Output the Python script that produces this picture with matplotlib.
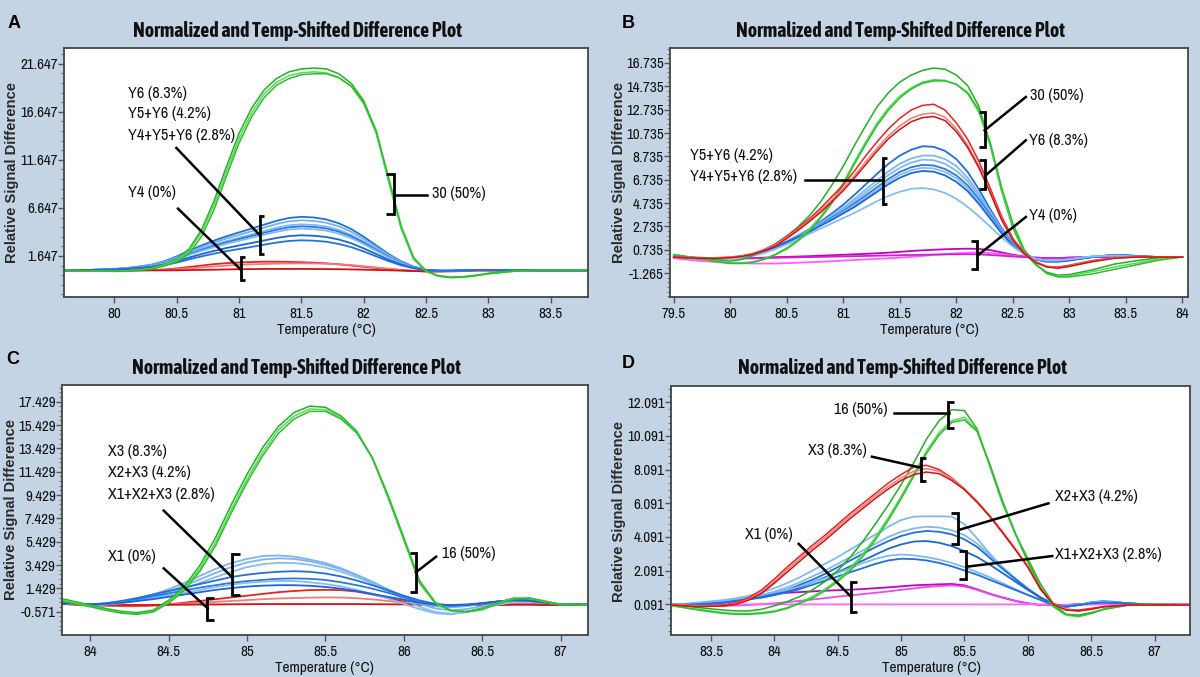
import matplotlib
matplotlib.use("Agg")
import matplotlib.pyplot as plt
from matplotlib import font_manager as fm
from matplotlib.font_manager import FontProperties
import os
from matplotlib.ticker import AutoMinorLocator

# ---------------- panel A ----------------
a_temp = [79.6, 79.8,
          80.0, 80.1, 80.2, 80.3, 80.4, 80.5, 80.6, 80.7, 80.8, 80.9,
          81.0, 81.1, 81.2, 81.3, 81.4, 81.5, 81.6, 81.7, 81.8, 81.9,
          82.0, 82.1, 82.2, 82.3, 82.4, 82.5, 82.6, 82.7, 82.8, 82.9,
          83.0, 83.2, 83.4, 83.6, 83.8]
a_green = [
    [0.15, 0.1,
     0.05, 0.1, 0.2, 0.4, 0.75, 1.3, 2.4, 4.4, 7.4, 11.0,
     14.4, 17.0, 18.9, 20.1, 20.8, 21.1, 21.2, 21.1, 20.6, 19.6,
     17.8, 14.6, 9.5, 4.6, 1.4, 0.1, -0.4, -0.55, -0.5, -0.35,
     -0.15, 0.1, 0.15, 0.15, 0.15],
    [0.15, 0.1,
     0.05, 0.1, 0.2, 0.35, 0.7, 1.2, 2.2, 4.1, 7.0, 10.5,
     13.9, 16.5, 18.5, 19.7, 20.4, 20.7, 20.8, 20.7, 20.2, 19.3,
     17.5, 14.4, 9.4, 4.5, 1.3, 0.05, -0.45, -0.6, -0.55, -0.4,
     -0.2, 0.05, 0.15, 0.15, 0.15],
    [0.15, 0.1,
     0.05, 0.05, 0.15, 0.3, 0.6, 1.05, 1.9, 3.7, 6.5, 10.0,
     13.4, 16.1, 18.1, 19.4, 20.1, 20.5, 20.6, 20.6, 20.2, 19.3,
     17.6, 14.7, 9.8, 4.8, 1.5, 0.1, -0.45, -0.6, -0.55, -0.4,
     -0.2, 0.05, 0.15, 0.15, 0.15],
]
a_blue = [
    [0.15, 0.2,
     0.3, 0.4, 0.55, 0.75, 1.1, 1.6, 2.2, 2.75, 3.25, 3.7,
     4.1, 4.5, 4.9, 5.3, 5.6, 5.72, 5.65, 5.45, 5.05, 4.45,
     3.65, 2.75, 1.85, 1.1, 0.55, 0.2, 0.1, 0.1, 0.15, 0.2,
     0.2, 0.15, 0.15, 0.15, 0.15],
    [0.15, 0.2,
     0.29, 0.38, 0.52, 0.71, 1.04, 1.5, 2.07, 2.58, 3.05, 3.47,
     3.84, 4.22, 4.59, 4.97, 5.25, 5.36, 5.29, 5.1, 4.73, 4.17,
     3.42, 2.58, 1.74, 1.04, 0.52, 0.2, 0.1, 0.1, 0.15, 0.2,
     0.2, 0.15, 0.15, 0.15, 0.15],
    [0.15, 0.19,
     0.28, 0.37, 0.49, 0.67, 0.97, 1.4, 1.91, 2.39, 2.82, 3.2,
     3.55, 3.89, 4.24, 4.58, 4.84, 4.94, 4.88, 4.71, 4.36, 3.85,
     3.16, 2.39, 1.61, 0.97, 0.49, 0.19, 0.11, 0.11, 0.15, 0.19,
     0.19, 0.15, 0.15, 0.15, 0.15],
    [0.15, 0.19,
     0.27, 0.36, 0.48, 0.64, 0.93, 1.34, 1.84, 2.29, 2.7, 3.07,
     3.4, 3.73, 4.05, 4.38, 4.63, 4.73, 4.67, 4.51, 4.18, 3.68,
     3.03, 2.29, 1.55, 0.93, 0.48, 0.19, 0.11, 0.11, 0.15, 0.19,
     0.19, 0.15, 0.15, 0.15, 0.15],
    [0.15, 0.19,
     0.27, 0.34, 0.46, 0.62, 0.89, 1.28, 1.75, 2.18, 2.56, 2.92,
     3.23, 3.54, 3.85, 4.16, 4.4, 4.49, 4.43, 4.28, 3.97, 3.5,
     2.88, 2.18, 1.47, 0.89, 0.46, 0.19, 0.11, 0.11, 0.15, 0.19,
     0.19, 0.15, 0.15, 0.15, 0.15],
    [0.15, 0.18,
     0.25, 0.31, 0.41, 0.54, 0.77, 1.1, 1.49, 1.85, 2.18, 2.48,
     2.74, 3.0, 3.26, 3.52, 3.72, 3.8, 3.75, 3.62, 3.36, 2.97,
     2.44, 1.85, 1.26, 0.77, 0.41, 0.18, 0.12, 0.12, 0.15, 0.18,
     0.18, 0.15, 0.15, 0.15, 0.15],
    [0.15, 0.18,
     0.23, 0.29, 0.37, 0.49, 0.68, 0.96, 1.3, 1.61, 1.89, 2.15,
     2.37, 2.59, 2.82, 3.04, 3.21, 3.28, 3.24, 3.13, 2.9, 2.57,
     2.12, 1.61, 1.11, 0.68, 0.37, 0.18, 0.12, 0.12, 0.15, 0.18,
     0.18, 0.15, 0.15, 0.15, 0.15],
]
a_red = [
    [0.15, 0.15,
     0.15, 0.15, 0.16, 0.18, 0.25, 0.35, 0.5, 0.65, 0.8, 0.9,
     0.97, 1.02, 1.05, 1.05, 1.03, 1.0, 0.95, 0.88, 0.78, 0.65,
     0.52, 0.4, 0.28, 0.18, 0.1, 0.05, 0.05, 0.08, 0.12, 0.15,
     0.15, 0.15, 0.15, 0.15, 0.15],
    [0.15, 0.15,
     0.15, 0.15, 0.15, 0.17, 0.2, 0.27, 0.36, 0.46, 0.56, 0.65,
     0.72, 0.78, 0.82, 0.85, 0.87, 0.88, 0.87, 0.84, 0.78, 0.7,
     0.58, 0.45, 0.32, 0.2, 0.1, 0.02, 0.0, 0.02, 0.08, 0.12,
     0.15, 0.15, 0.15, 0.15, 0.15],
    [0.15, 0.15,
     0.15, 0.15, 0.15, 0.15, 0.15, 0.16, 0.18, 0.2, 0.22, 0.25,
     0.27, 0.28, 0.3, 0.3, 0.3, 0.3, 0.29, 0.28, 0.27, 0.25,
     0.22, 0.19, 0.16, 0.12, 0.08, 0.06, 0.06, 0.08, 0.12, 0.15,
     0.15, 0.15, 0.15, 0.15, 0.15],
]
a_yticks = [1.647, 6.647, 11.647, 16.647, 21.647]
a_xticks = [80, 80.5, 81, 81.5, 82, 82.5, 83, 83.5]

# ---------------- panel B ----------------
b_temp = [79.5, 79.7, 79.9,
          80.0, 80.1, 80.2, 80.3, 80.4, 80.5, 80.6, 80.7, 80.8, 80.9,
          81.0, 81.1, 81.2, 81.3, 81.4, 81.5, 81.6, 81.7, 81.8, 81.9,
          82.0, 82.1, 82.2, 82.3, 82.4, 82.5, 82.6, 82.7, 82.8, 82.9,
          83.0, 83.2, 83.4, 83.6, 83.8, 84.0]
b_green = [
    [0.3, 0.05, -0.15,
     -0.25, -0.1, 0.25, 0.7, 1.25, 1.9, 2.7, 3.65, 4.85, 6.3,
     7.9, 9.7, 11.4, 13.0, 14.2, 15.1, 15.7, 16.1, 16.3, 16.2,
     15.7, 14.8, 13.0, 9.8, 5.8, 2.6, 0.5, -0.55, -1.2, -1.45,
     -1.4, -1.0, -0.5, -0.2, 0.05, 0.1],
    [0.3, 0.0, -0.3,
     -0.4, -0.4, -0.3, -0.05, 0.35, 0.9, 1.6, 2.5, 3.6, 4.9,
     6.5, 8.3, 10.0, 11.6, 12.9, 13.9, 14.6, 15.1, 15.3, 15.25,
     14.9, 14.1, 12.5, 9.6, 5.8, 2.8, 0.6, -0.5, -1.3, -1.55,
     -1.5, -1.15, -0.75, -0.4, -0.05, 0.1],
    [0.3, 0.0, -0.3,
     -0.45, -0.45, -0.35, -0.1, 0.3, 0.8, 1.5, 2.35, 3.45, 4.75,
     6.3, 8.1, 9.8, 11.4, 12.7, 13.75, 14.5, 15.0, 15.2, 15.2,
     14.9, 14.2, 12.7, 9.9, 6.1, 3.0, 0.75, -0.45, -1.3, -1.6,
     -1.6, -1.35, -0.95, -0.55, -0.15, 0.1],
]
b_red = [
    [0.1, 0.0, 0.05,
     0.1, 0.2, 0.4, 0.75, 1.2, 1.9, 2.6, 3.4, 4.3, 5.3,
     6.3, 7.5, 8.8, 10.0, 11.1, 12.0, 12.7, 13.1, 13.2, 12.7,
     11.6, 10.2, 8.3, 6.0, 3.6, 1.7, 0.5, -0.3, -0.7, -0.75,
     -0.6, -0.2, 0.05, 0.1, 0.1, 0.1],
    [0.1, 0.0, 0.05,
     0.1, 0.2, 0.4, 0.7, 1.15, 1.8, 2.5, 3.25, 4.1, 5.0,
     6.0, 7.1, 8.3, 9.45, 10.5, 11.35, 12.0, 12.35, 12.45, 12.1,
     11.1, 9.7, 7.9, 5.7, 3.4, 1.6, 0.45, -0.3, -0.7, -0.8,
     -0.65, -0.25, 0.05, 0.1, 0.1, 0.1],
    [0.1, 0.0, 0.0,
     0.05, 0.15, 0.35, 0.65, 1.05, 1.7, 2.4, 3.15, 3.95, 4.85,
     5.8, 6.9, 8.05, 9.2, 10.25, 11.05, 11.7, 12.05, 12.15, 11.8,
     10.85, 9.5, 7.75, 5.6, 3.3, 1.55, 0.4, -0.35, -0.75, -0.85,
     -0.7, -0.3, 0.0, 0.1, 0.1, 0.1],
]
b_blue = [
    [0.2, 0.0, 0.0, 0.05, 0.15, 0.35, 0.65, 1.0, 1.45, 1.95,
     2.5, 3.15, 3.85, 4.6, 5.45, 6.35, 7.25, 8.1, 8.8, 9.3,
     9.6, 9.55, 9.2, 8.5, 7.4, 5.9, 4.2, 2.6, 1.35, 0.45,
     -0.1, -0.3, -0.3, -0.2, 0.1, 0.2, 0.15, 0.1, 0.1],
    [0.2, 0.0, -0.05, 0.0, 0.1, 0.3, 0.6, 0.95, 1.4, 1.9,
     2.45, 3.05, 3.7, 4.35, 5.1, 5.9, 6.7, 7.45, 8.1, 8.55,
     8.8, 8.8, 8.5, 7.9, 6.9, 5.55, 4.0, 2.5, 1.3, 0.45,
     -0.05, -0.2, -0.2, -0.1, 0.15, 0.25, 0.15, 0.1, 0.1],
    [0.15, 0.0, -0.05, 0.0, 0.1, 0.3, 0.55, 0.9, 1.35, 1.85,
     2.4, 3.0, 3.6, 4.2, 4.9, 5.65, 6.4, 7.15, 7.75, 8.2,
     8.45, 8.4, 8.1, 7.5, 6.6, 5.3, 3.85, 2.4, 1.25, 0.4,
     -0.05, -0.2, -0.2, -0.1, 0.15, 0.25, 0.15, 0.1, 0.1],
    [0.2, 0.0, 0.0, 0.05, 0.15, 0.3, 0.6, 0.95, 1.4, 1.85,
     2.35, 2.9, 3.5, 4.05, 4.7, 5.4, 6.1, 6.8, 7.4, 7.8,
     8.0, 7.95, 7.65, 7.1, 6.25, 5.05, 3.7, 2.35, 1.2, 0.4,
     -0.1, -0.25, -0.25, -0.15, 0.1, 0.3, 0.2, 0.1, 0.1],
    [0.15, -0.05, -0.1, -0.05, 0.05, 0.25, 0.5, 0.85, 1.3, 1.8,
     2.3, 2.85, 3.4, 3.95, 4.55, 5.2, 5.9, 6.55, 7.15, 7.55,
     7.75, 7.7, 7.4, 6.85, 6.0, 4.85, 3.55, 2.25, 1.15, 0.35,
     -0.05, -0.2, -0.2, -0.1, 0.15, 0.25, 0.15, 0.1, 0.1],
    [0.2, 0.0, 0.0, 0.05, 0.15, 0.3, 0.55, 0.9, 1.35, 1.8,
     2.25, 2.8, 3.3, 3.85, 4.4, 5.05, 5.7, 6.35, 6.9, 7.3,
     7.48, 7.42, 7.1, 6.55, 5.75, 4.65, 3.4, 2.15, 1.1, 0.35,
     -0.1, -0.25, -0.25, -0.15, 0.1, 0.3, 0.2, 0.1, 0.1],
    [0.15, -0.05, -0.1, -0.05, 0.05, 0.2, 0.45, 0.8, 1.2, 1.65,
     2.1, 2.55, 3.0, 3.45, 3.9, 4.4, 4.9, 5.35, 5.7, 5.95,
     6.02, 5.9, 5.6, 5.1, 4.4, 3.6, 2.7, 1.8, 1.0, 0.35,
     -0.05, -0.2, -0.2, -0.1, 0.15, 0.25, 0.15, 0.1, 0.1],
]
b_magenta = [
    [0.1, 0.05, 0.0,
     0.0, 0.0, 0.0, 0.05, 0.1, 0.12, 0.15, 0.18, 0.22, 0.26,
     0.3, 0.34, 0.38, 0.43, 0.48, 0.55, 0.62, 0.68, 0.73, 0.77,
     0.8, 0.82, 0.8, 0.7, 0.5, 0.3, 0.15, 0.05, 0.0, 0.0,
     0.05, 0.1, 0.15, 0.1, 0.1, 0.1],
    [0.0, -0.2, -0.35,
     -0.4, -0.42, -0.45, -0.45, -0.45, -0.42, -0.38, -0.34, -0.3, -0.25,
     -0.2, -0.15, -0.1, -0.05, 0.0, 0.05, 0.12, 0.2, 0.28, 0.35,
     0.42, 0.47, 0.5, 0.45, 0.35, 0.22, 0.12, 0.05, 0.0, 0.0,
     0.05, 0.1, 0.1, 0.1, 0.1, 0.1],
    [0.1, 0.05, 0.0,
     0.0, 0.0, 0.0, 0.02, 0.04, 0.06, 0.08, 0.1, 0.12, 0.14,
     0.16, 0.18, 0.2, 0.22, 0.24, 0.26, 0.28, 0.3, 0.32, 0.33,
     0.34, 0.35, 0.33, 0.28, 0.22, 0.15, 0.1, 0.05, 0.02, 0.02,
     0.05, 0.1, 0.1, 0.1, 0.1, 0.1],
]
b_yticks = [-1.265, 0.735, 2.735, 4.735, 6.735, 8.735, 10.735, 12.735, 14.735, 16.735]
b_xticks = [79.5, 80, 80.5, 81, 81.5, 82, 82.5, 83, 83.5, 84]

# ---------------- panel C ----------------
c_temp = [83.8, 83.9, 84.0, 84.1, 84.2, 84.3, 84.4, 84.5, 84.6, 84.7,
          84.8, 84.9, 85.0, 85.1, 85.2, 85.3, 85.4, 85.5, 85.6, 85.7,
          85.8, 85.9, 86.0, 86.1, 86.2, 86.3, 86.4, 86.5, 86.6, 86.7,
          86.8, 86.9, 87.0, 87.1, 87.2]
c_green = [
    [0.6, 0.3, 0.0, -0.3, -0.55, -0.65, -0.45, 0.4, 1.6, 3.4,
     5.8, 8.6, 11.2, 13.5, 15.3, 16.5, 17.05, 16.95, 16.2, 14.9,
     12.6, 9.2, 5.6, 1.9, 0.15, -0.5, -0.55, -0.3, 0.2, 0.6,
     0.55, 0.25, 0.0, 0.05, 0.0],
    [0.5, 0.2, -0.1, -0.4, -0.65, -0.75, -0.55, 0.25, 1.4, 3.1,
     5.4, 8.2, 10.8, 13.1, 15.0, 16.2, 16.8, 16.75, 16.05, 14.8,
     12.6, 9.3, 5.7, 2.0, 0.2, -0.5, -0.6, -0.35, 0.15, 0.55,
     0.6, 0.3, 0.05, 0.05, 0.0],
    [0.4, 0.1, -0.15, -0.45, -0.7, -0.8, -0.6, 0.15, 1.25, 2.9,
     5.1, 7.9, 10.5, 12.8, 14.7, 15.95, 16.6, 16.6, 15.95, 14.75,
     12.6, 9.4, 5.8, 2.1, 0.25, -0.45, -0.6, -0.4, 0.1, 0.5,
     0.6, 0.35, 0.05, 0.05, 0.0],
]
c_blue = [
    [0.2, 0.1, 0.05, 0.15, 0.3, 0.55, 0.9, 1.35, 1.9, 2.5,
     3.1, 3.6, 3.95, 4.2, 4.25, 4.15, 3.9, 3.6, 3.15, 2.6,
     2.0, 1.35, 0.75, 0.25, -0.1, -0.2, -0.1, 0.1, 0.3, 0.45,
     0.4, 0.2, 0.05, 0.1, 0.0],
    [0.2, 0.1, 0.05, 0.1, 0.25, 0.45, 0.75, 1.15, 1.65, 2.2,
     2.75, 3.25, 3.65, 3.9, 4.0, 3.95, 3.75, 3.45, 3.05, 2.55,
     1.95, 1.3, 0.65, 0.1, -0.3, -0.45, -0.35, -0.1, 0.15, 0.35,
     0.35, 0.2, 0.05, 0.1, 0.0],
    [0.2, 0.1, 0.0, 0.05, 0.15, 0.35, 0.6, 0.95, 1.4, 1.9,
     2.4, 2.85, 3.25, 3.5, 3.62, 3.6, 3.45, 3.2, 2.85, 2.4,
     1.85, 1.2, 0.5, -0.15, -0.6, -0.75, -0.6, -0.25, 0.05, 0.25,
     0.3, 0.2, 0.05, 0.1, 0.0],
    [0.2, 0.1, 0.05, 0.15, 0.35, 0.6, 0.9, 1.2, 1.5, 1.8,
     2.1, 2.4, 2.6, 2.75, 2.85, 2.9, 2.85, 2.7, 2.45, 2.1,
     1.7, 1.25, 0.8, 0.4, 0.1, -0.05, 0.0, 0.15, 0.3, 0.45,
     0.4, 0.25, 0.05, 0.1, 0.0],
    [0.2, 0.1, 0.05, 0.12, 0.3, 0.5, 0.75, 1.0, 1.25, 1.5,
     1.7, 1.9, 2.05, 2.15, 2.25, 2.28, 2.25, 2.15, 1.95, 1.7,
     1.4, 1.05, 0.65, 0.3, 0.05, -0.05, 0.0, 0.15, 0.3, 0.4,
     0.35, 0.2, 0.05, 0.1, 0.0],
    [0.2, 0.1, 0.0, 0.05, 0.2, 0.35, 0.55, 0.8, 1.05, 1.3,
     1.55, 1.75, 1.9, 2.0, 2.07, 2.05, 1.95, 1.8, 1.6, 1.3,
     0.95, 0.55, 0.1, -0.35, -0.7, -0.8, -0.6, -0.25, 0.05, 0.25,
     0.3, 0.2, 0.05, 0.1, 0.0],
    [0.2, 0.1, 0.05, 0.1, 0.2, 0.35, 0.5, 0.7, 0.9, 1.1,
     1.3, 1.45, 1.58, 1.66, 1.7, 1.7, 1.65, 1.55, 1.4, 1.2,
     0.95, 0.7, 0.45, 0.2, 0.05, 0.0, 0.05, 0.15, 0.3, 0.4,
     0.35, 0.2, 0.05, 0.1, 0.0],
]
c_red = [
    [0.1, 0.05, 0.0, -0.05, -0.1, -0.1, -0.05, 0.05, 0.2, 0.35,
     0.5, 0.65, 0.8, 0.95, 1.1, 1.2, 1.28, 1.3, 1.28, 1.15,
     0.9, 0.6, 0.3, 0.05, -0.1, -0.1, 0.0, 0.05, 0.1, 0.15,
     0.1, 0.05, 0.0, 0.05, 0.0],
    [0.1, 0.05, 0.0, -0.05, -0.05, -0.05, 0.0, 0.05, 0.12, 0.2,
     0.27, 0.35, 0.42, 0.5, 0.56, 0.6, 0.63, 0.65, 0.64, 0.58,
     0.48, 0.35, 0.2, 0.08, 0.0, -0.02, 0.0, 0.02, 0.05, 0.1,
     0.08, 0.05, 0.0, 0.05, 0.0],
    [0.1, 0.05, 0.0, 0.0, 0.0, 0.0, 0.0, 0.02, 0.03, 0.04,
     0.05, 0.06, 0.07, 0.08, 0.08, 0.08, 0.08, 0.08, 0.08, 0.08,
     0.07, 0.06, 0.05, 0.03, 0.02, 0.0, 0.0, 0.0, 0.0, 0.02,
     0.02, 0.0, 0.0, 0.02, 0.0],
]
c_yticks = [-0.571, 1.429, 3.429, 5.429, 7.429, 9.429, 11.429, 13.429, 15.429, 17.429]
c_xticks = [84, 84.5, 85, 85.5, 86, 86.5, 87]

# ---------------- panel D ----------------
d_temp = [83.2, 83.4, 83.6,
          83.7, 83.8, 83.9, 84.0, 84.1, 84.2, 84.3, 84.4, 84.5, 84.6,
          84.7, 84.8, 84.9, 85.0, 85.1, 85.2, 85.3, 85.4, 85.5, 85.6,
          85.7, 85.8, 85.9, 86.0, 86.1, 86.2, 86.3, 86.4, 86.5, 86.6,
          86.8, 87.0, 87.3]
d_green = [
    [0.05, -0.1, -0.25,
     -0.3, -0.3, -0.2, 0.0, 0.25, 0.55, 0.95, 1.45, 2.1, 2.9,
     3.85, 4.9, 6.0, 7.2, 8.5, 9.9, 11.0, 11.65, 11.6, 10.5,
     8.3, 6.1, 4.3, 2.8, 1.3, 0.15, -0.5, -0.55, -0.4, -0.2,
     0.1, 0.1, 0.05],
    [0.0, -0.2, -0.4,
     -0.45, -0.45, -0.4, -0.3, -0.1, 0.2, 0.55, 1.0, 1.55, 2.25,
     3.1, 4.1, 5.25, 6.5, 7.85, 9.2, 10.3, 11.0, 11.2, 10.4,
     8.4, 6.2, 4.3, 2.6, 1.05, -0.05, -0.55, -0.65, -0.45, -0.2,
     0.05, 0.1, 0.05],
    [0.0, -0.25, -0.45,
     -0.5, -0.5, -0.45, -0.35, -0.15, 0.15, 0.45, 0.9, 1.45, 2.1,
     2.95, 3.95, 5.1, 6.35, 7.7, 9.05, 10.15, 10.9, 11.05, 10.35,
     8.4, 6.25, 4.35, 2.65, 1.1, 0.0, -0.5, -0.6, -0.45, -0.2,
     0.05, 0.1, 0.05],
]
d_red = [
    [0.1, 0.0, 0.05,
     0.2, 0.5, 0.95, 1.6, 2.3, 2.95, 3.6, 4.2, 4.85, 5.5,
     6.1, 6.7, 7.3, 7.8, 8.25, 8.35, 8.1, 7.6, 6.95, 6.2,
     5.35, 4.4, 3.4, 2.35, 1.0, 0.15, -0.2, -0.25, -0.15, -0.05,
     0.05, 0.05, 0.05],
    [0.1, 0.0, 0.0,
     0.15, 0.4, 0.85, 1.45, 2.15, 2.8, 3.45, 4.05, 4.7, 5.35,
     5.95, 6.55, 7.1, 7.6, 8.0, 8.15, 8.0, 7.55, 6.95, 6.2,
     5.35, 4.4, 3.4, 2.35, 1.0, 0.15, -0.2, -0.3, -0.2, -0.05,
     0.05, 0.05, 0.05],
    [0.05, -0.05, 0.0,
     0.1, 0.35, 0.75, 1.35, 2.0, 2.65, 3.3, 3.9, 4.55, 5.2,
     5.8, 6.4, 6.95, 7.45, 7.8, 7.95, 7.85, 7.45, 6.9, 6.15,
     5.3, 4.35, 3.35, 2.3, 1.0, 0.1, -0.25, -0.3, -0.2, -0.05,
     0.05, 0.05, 0.05],
]
d_blue = [
    [0.05, 0.2, 0.35,
     0.45, 0.6, 0.8, 1.05, 1.35, 1.7, 2.1, 2.5, 2.9, 3.35,
     3.8, 4.25, 4.7, 5.1, 5.3, 5.32, 5.32, 5.3, 4.85, 4.0,
     3.1, 2.3, 1.6, 1.0, 0.45, 0.05, -0.05, 0.05, 0.2, 0.3,
     0.15, 0.05, 0.05],
    [0.05, 0.1, 0.25,
     0.35, 0.5, 0.65, 0.85, 1.1, 1.4, 1.75, 2.1, 2.5, 2.9,
     3.3, 3.7, 4.1, 4.4, 4.6, 4.7, 4.65, 4.5, 4.2, 3.7,
     3.0, 2.3, 1.65, 1.05, 0.5, 0.1, -0.05, 0.05, 0.2, 0.3,
     0.15, 0.05, 0.05],
    [0.05, 0.1, 0.2,
     0.3, 0.4, 0.55, 0.75, 0.95, 1.25, 1.55, 1.9, 2.3, 2.7,
     3.1, 3.5, 3.85, 4.15, 4.35, 4.45, 4.4, 4.25, 3.95, 3.5,
     2.85, 2.2, 1.6, 1.0, 0.5, 0.1, -0.05, 0.05, 0.2, 0.25,
     0.15, 0.05, 0.05],
    [0.05, 0.1, 0.2,
     0.3, 0.4, 0.5, 0.65, 0.85, 1.1, 1.4, 1.7, 2.0, 2.35,
     2.7, 3.05, 3.4, 3.65, 3.82, 3.85, 3.75, 3.55, 3.25, 2.9,
     2.45, 1.95, 1.45, 0.95, 0.5, 0.1, -0.05, 0.05, 0.2, 0.25,
     0.15, 0.05, 0.05],
    [0.05, 0.15, 0.3,
     0.4, 0.5, 0.65, 0.8, 0.95, 1.15, 1.4, 1.65, 1.95, 2.25,
     2.55, 2.8, 2.98, 3.05, 3.0, 2.9, 2.75, 2.55, 2.3, 2.0,
     1.7, 1.35, 1.0, 0.65, 0.35, 0.05, -0.05, 0.05, 0.2, 0.25,
     0.15, 0.05, 0.05],
    [0.05, 0.1, 0.2,
     0.3, 0.4, 0.5, 0.65, 0.8, 1.0, 1.25, 1.5, 1.75, 2.0,
     2.25, 2.5, 2.7, 2.8, 2.78, 2.7, 2.55, 2.35, 2.1, 1.85,
     1.55, 1.25, 0.95, 0.65, 0.35, 0.05, -0.05, 0.05, 0.15, 0.2,
     0.15, 0.05, 0.05],
]
d_magenta = [
    [0.05, 0.1, 0.25,
     0.35, 0.45, 0.6, 0.72, 0.78, 0.82, 0.86, 0.9, 0.93, 0.96,
     1.0, 1.05, 1.1, 1.16, 1.22, 1.25, 1.28, 1.3, 1.22, 0.98,
     0.72, 0.5, 0.3, 0.15, 0.05, 0.05, 0.05, 0.1, 0.1, 0.1,
     0.1, 0.1, 0.1],
    [0.05, 0.0, 0.0,
     0.02, 0.05, 0.1, 0.15, 0.22, 0.3, 0.38, 0.46, 0.55, 0.63,
     0.7, 0.78, 0.86, 0.95, 1.04, 1.12, 1.18, 1.22, 1.15, 0.95,
     0.7, 0.48, 0.3, 0.15, 0.05, 0.05, 0.05, 0.1, 0.1, 0.1,
     0.1, 0.1, 0.1],
    [0.09, 0.09, 0.09,
     0.09, 0.09, 0.09, 0.09, 0.09, 0.09, 0.09, 0.09, 0.09, 0.09,
     0.09, 0.09, 0.09, 0.09, 0.09, 0.09, 0.09, 0.09, 0.09, 0.09,
     0.09, 0.09, 0.09, 0.09, 0.09, 0.09, 0.05, 0.05, 0.1, 0.1,
     0.1, 0.1, 0.1],
]
d_yticks = [0.091, 2.091, 4.091, 6.091, 8.091, 10.091, 12.091]
d_xticks = [83.5, 84, 84.5, 85, 85.5, 86, 86.5, 87]

# colours
GREEN = ['#1fb21f', '#5cd65c', '#2cbf2c']
RED = ['#e8231f', '#f27a78', '#d41010']
BLUE = ['#1f6fdc', '#72b0f0', '#7fb8f2', '#2a78e0', '#80baf2', '#1a66d6', '#2370dc']
BLUE_B = ['#1f6fdc', '#7db6f2', '#80b8f2', '#2a78e0', '#86bcf3', '#1a66d6', '#86bcf3']
BLUE_C = ['#7ab4f2', '#7ab4f2', '#86bcf3', '#1f6fdc', '#2a78e0', '#86bcf3', '#1a66d6']
BLUE_D = ['#80b8f2', '#80b8f2', '#1f6fdc', '#1a66d6', '#80b8f2', '#1f6fdc']
MAGENTA = ['#c400c4', '#ff5cff', '#d020d0']
MAGENTA_D = ['#c400c4', '#e64de6', '#ff66ff']


# pick a narrow font for the axis text, similar to Arial Narrow
def font_file(names):
    paths = {os.path.basename(f.fname): f.fname for f in fm.fontManager.ttflist}
    for n in names:
        if n in paths:
            return paths[n]
    return None


reg_path = font_file(['ArchivoNarrow[wght].ttf', 'AsapCondensed-Regular.ttf',
                      'BarlowCondensed-Regular.ttf'])
bold_path = font_file(['AsapCondensed-Bold.ttf', 'BarlowCondensed-Bold.ttf'])


def nfont(size, bold=False):
    p = bold_path if bold else reg_path
    if p:
        return FontProperties(fname=p, size=size)
    return FontProperties(family='Liberation Sans', size=size * 0.85,
                          weight='bold' if bold else 'normal')


fig = plt.figure(figsize=(12, 6.77), dpi=100)
fig.patch.set_facecolor('#c4d4e4')
W, H = 1200.0, 677.0


def px_axes(left, top, right, bottom):
    return fig.add_axes([left / W, 1 - bottom / H, (right - left) / W, (bottom - top) / H])


def draw(ax, temps, curves, colors, lw=1.0):
    for y, c in zip(curves, colors):
        ax.plot(temps, y, color=c, lw=lw, solid_joinstyle='round')


def bracket(ax, x, y0, y1, w):
    ax.plot([x + w, x, x, x + w], [y0, y0, y1, y1], color='black', lw=2.0,
            solid_joinstyle='miter', solid_capstyle='butt', zorder=5)


def leader(ax, x0, y0, x1, y1):
    ax.plot([x0, x1], [y0, y1], color='black', lw=1.8, zorder=5)


def label(ax, x, y, s, ha='left'):
    ax.text(x, y, s, fontproperties=nfont(11.6), color='#111111',
            ha=ha, va='center', zorder=6)


def style(ax, xlim, ylim, xticks, yticks):
    ax.set_xlim(*xlim)
    ax.set_ylim(*ylim)
    ax.set_xticks(xticks)
    ax.set_xticklabels([('%g' % t) for t in xticks])
    ax.set_yticks(yticks)
    ax.set_yticklabels([('%.3f' % t) for t in yticks])
    for t in ax.get_xticklabels() + ax.get_yticklabels():
        t.set_fontproperties(nfont(10.8))
    ax.yaxis.set_minor_locator(AutoMinorLocator(5))
    ax.tick_params(axis='x', direction='out', length=4, width=1, color='#555555',
                   pad=3, labelcolor='#111111')
    ax.tick_params(axis='y', which='major', direction='out', length=4, width=1,
                   color='#555555', pad=0.5, labelcolor='#111111')
    ax.tick_params(axis='y', which='minor', direction='out', length=2, width=0.8,
                   color='#777777')
    for s in ax.spines.values():
        s.set_color('#444444')
        s.set_linewidth(1.3)
    ax.set_facecolor('white')


def frame_text(letter, lx, ly, tx, ty, xx, xy, yx, yy):
    fig.text(lx / W, 1 - ly / H, letter, fontsize=13, fontweight='bold',
             family='Liberation Sans', ha='center', va='center')
    fig.text(tx / W, 1 - ty / H, 'Normalized and Temp-Shifted Difference Plot',
             fontproperties=nfont(14.2, bold=True), ha='center', va='center',
             color='#111111')
    fig.text(xx / W, 1 - xy / H, 'Temperature (\u00b0C)', fontproperties=nfont(11),
             ha='center', va='center', color='#111111')
    fig.text(yx / W, 1 - yy / H, 'Relative Signal Difference', fontsize=10.6,
             fontweight='bold', family='Liberation Sans', rotation=90,
             ha='center', va='center', color='#2a2a2a')


# ---- A ----
ax = px_axes(64, 48, 588, 297)
style(ax, (79.595, 83.80), (-2.62, 23.28), a_xticks, a_yticks)
draw(ax, a_temp, a_red, RED, 1.3)
draw(ax, a_temp, a_blue, BLUE, 1.3)
draw(ax, a_temp, a_green, GREEN, 1.1)
label(ax, 80.107, 18.59, 'Y6 (8.3%)')
label(ax, 80.107, 16.45, 'Y5+Y6 (4.2%)')
label(ax, 80.107, 14.19, 'Y4+Y5+Y6 (2.8%)')
leader(ax, 80.497, 12.88, 81.167, 3.8)
bracket(ax, 81.167, 1.89, 5.77, 0.035)
label(ax, 80.107, 8.2, 'Y4 (0%)')
leader(ax, 80.51, 6.57, 81.013, 0.23)
bracket(ax, 81.013, -0.88, 1.54, 0.035)
bracket(ax, 82.241, 6.05, 10.21, -0.06)
leader(ax, 82.241, 7.95, 82.51, 7.95)
label(ax, 82.548, 8.13, '30 (50%)')
frame_text('A', 14, 24, 297, 31, 326, 330, 12, 172.5)

# ---- B ----
ax = px_axes(670, 48, 1188, 297)
style(ax, (79.466, 84.05), (-3.32, 18.02), b_xticks, b_yticks)
draw(ax, b_temp, b_magenta, MAGENTA, 1.3)
draw(ax, b_temp, b_blue, BLUE_B, 1.3)
draw(ax, b_temp, b_green, GREEN, 1.1)
draw(ax, b_temp, b_red, RED, 1.1)
bracket(ax, 82.25, 9.535, 12.54, -0.05)
leader(ax, 82.25, 10.96, 82.615, 13.82)
label(ax, 82.656, 13.96, '30 (50%)')
bracket(ax, 82.25, 5.96, 8.45, -0.05)
leader(ax, 82.26, 7.11, 82.615, 10.11)
label(ax, 82.64, 10.11, 'Y6 (8.3%)')
bracket(ax, 82.18, -0.89, 1.48, -0.05)
leader(ax, 82.19, 0.25, 82.615, 3.535)
label(ax, 82.64, 3.68, 'Y4 (0%)')
bracket(ax, 81.352, 4.62, 8.62, 0.035)
leader(ax, 80.658, 6.68, 81.352, 6.68)
label(ax, 79.642, 8.82, 'Y5+Y6 (4.2%)')
label(ax, 79.642, 7.02, 'Y4+Y5+Y6 (2.8%)')
frame_text('B', 628, 24, 900, 31, 929, 330, 619, 172.5)

# ---- C ----
ax = px_axes(62, 385, 588, 635)
style(ax, (83.82, 87.175), (-2.57, 18.86), c_xticks, c_yticks)
draw(ax, c_temp, c_red, RED, 1.3)
draw(ax, c_temp, c_blue, BLUE_C, 1.3)
draw(ax, c_temp, c_green, GREEN, 1.1)
label(ax, 84.115, 13.14, 'X3 (8.3%)')
label(ax, 84.115, 11.34, 'X2+X3 (4.2%)')
label(ax, 84.115, 9.516, 'X1+X2+X3 (2.8%)')
leader(ax, 84.469, 8.09, 84.906, 2.37)
bracket(ax, 84.906, 0.857, 4.34, 0.05)
label(ax, 84.115, 4.14, 'X1 (0%)')
leader(ax, 84.469, 3.14, 84.749, -0.285)
bracket(ax, 84.742, -1.285, 0.63, 0.05)
bracket(ax, 86.077, 1.14, 4.49, -0.04)
leader(ax, 86.077, 2.80, 86.206, 4.14)
label(ax, 86.243, 4.43, '16 (50%)')
frame_text('C', 13, 360, 296, 368, 324, 668, 11, 510)

# ---- D ----
ax = px_axes(671, 386, 1190, 635)
style(ax, (83.184, 87.28), (-1.73, 13.06), d_xticks, d_yticks)
draw(ax, d_temp, d_magenta, MAGENTA_D, 1.3)
draw(ax, d_temp, d_blue, BLUE_D, 1.3)
draw(ax, d_temp, d_green, GREEN, 1.1)
draw(ax, d_temp, d_red, RED, 1.1)
label(ax, 84.469, 11.675, '16 (50%)')
leader(ax, 84.944, 11.44, 85.381, 11.44)
bracket(ax, 85.372, 10.55, 12.13, 0.045)
label(ax, 84.267, 9.2, 'X3 (8.3%)')
leader(ax, 84.77, 8.86, 85.155, 8.21)
bracket(ax, 85.155, 7.42, 8.8, 0.045)
label(ax, 86.214, 6.49, 'X2+X3 (4.2%)')
leader(ax, 86.163, 6.09, 85.456, 4.51)
bracket(ax, 85.45, 3.67, 5.5, -0.06)
label(ax, 86.214, 3.06, 'X1+X2+X3 (2.8%)')
leader(ax, 86.193, 2.96, 85.522, 2.33)
bracket(ax, 85.516, 1.6, 3.26, -0.06)
label(ax, 83.765, 4.21, 'X1 (0%)')
leader(ax, 84.192, 3.68, 84.604, 0.55)
bracket(ax, 84.604, -0.345, 1.44, 0.045)
frame_text('D', 628, 363, 902, 368, 931, 668, 619, 511)

fig.savefig('out.png', dpi=100, facecolor=fig.get_facecolor())
